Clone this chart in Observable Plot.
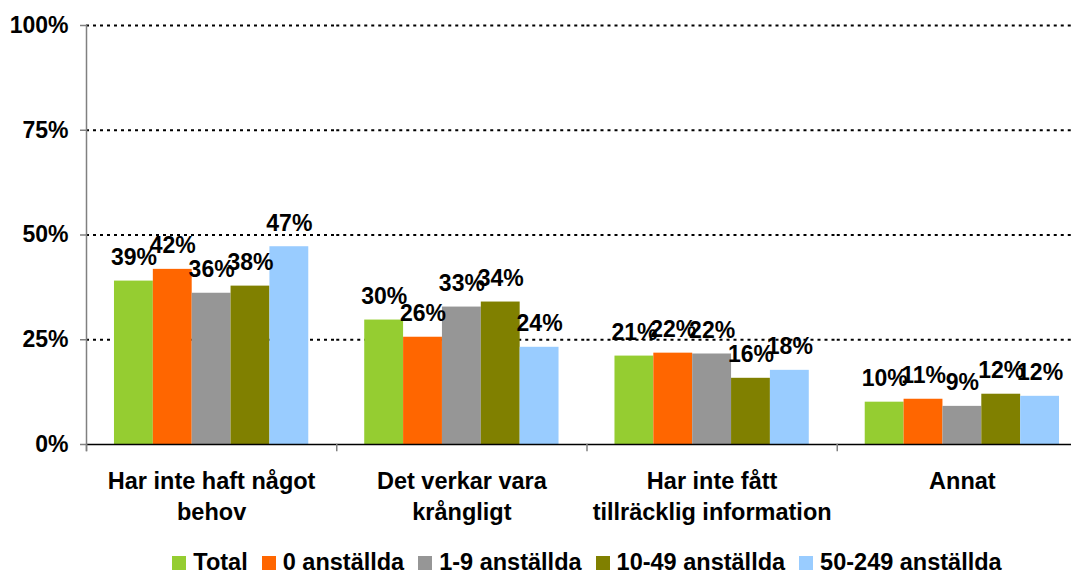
<!DOCTYPE html>
<html><head><meta charset="utf-8">
<script src="https://cdn.jsdelivr.net/npm/d3@7"></script>
<script src="https://cdn.jsdelivr.net/npm/@observablehq/plot@0.6"></script>
<style>
body{margin:0;background:#fff;font-family:"Liberation Sans",Arial,sans-serif;}
#chart svg{overflow:hidden;display:block;}
.lg-swatches{font-family:"Liberation Sans",Arial,sans-serif;font-weight:bold;font-size:23.5px;line-height:1;color:#000;margin:0 0 0 93px;width:1002px;min-height:30px;justify-content:center;}
.lg-swatch{margin-right:14px;}
.lg-swatch>svg{margin-right:7px;}
</style></head><body><div id="chart"></div>
<script>
const categories = ["Har inte haft något behov","Det verkar vara krångligt","Har inte fått tillräcklig information","Annat"];
const categoryLabels = ["Har inte haft något\nbehov","Det verkar vara\nkrångligt","Har inte fått\ntillräcklig information","Annat"];
const series = ["Total","0 anställda","1-9 anställda","10-49 anställda","50-249 anställda"];
const colors = ["#95CD31","#FF6600","#969696","#808000","#99CCFF"];
// bar heights (%)
const valTotal = [39.0, 29.7, 21.1, 10.1];
const val0     = [41.8, 25.6, 21.8, 10.8];
const val1_9   = [36.1, 32.8, 21.6, 9.1];
const val10_49 = [37.8, 34.0, 15.8, 12.0];
const val50_249= [47.2, 23.2, 17.7, 11.5];
// printed labels (%)
const lblTotal = [39, 30, 21, 10];
const lbl0     = [42, 26, 22, 11];
const lbl1_9   = [36, 33, 22, 9];
const lbl10_49 = [38, 34, 16, 12];
const lbl50_249= [47, 24, 18, 12];
const yTicks = [0, 25, 50, 75, 100];

const values = [valTotal, val0, val1_9, val10_49, val50_249];
const labels = [lblTotal, lbl0, lbl1_9, lbl10_49, lbl50_249];
const rows = [];
categories.forEach((c, i) => series.forEach((s, j) => rows.push({cat: c, series: s, value: values[j][i], label: labels[j][i]})));
const catRows = categories.map((c, i) => ({cat: c, label: categoryLabels[i]}));

const W = 1071, H = 548, plotTop = 25, plotBottom = 444;
const font = "'Liberation Sans', Arial, sans-serif";
const plot = Plot.plot({
  width: W, height: H,
  marginLeft: 86, marginRight: -16, marginTop: plotTop, marginBottom: H - plotBottom,
  style: {fontFamily: font, fontWeight: "bold", fontSize: "23px", color: "#000", background: "#fff", overflow: "hidden"},
  fx: {domain: categories, padding: 0, round: false, axis: null},
  x: {domain: series, paddingInner: 0, paddingOuter: 0.72, round: false, axis: null},
  y: {domain: [0, 100], axis: null},
  color: {domain: series, range: colors},
  marks: [
    Plot.ruleY(yTicks.filter(d => d > 0), {stroke: "#000", strokeWidth: 2, strokeDasharray: "3,4"}),
    Plot.barY(rows, {fx: "cat", x: "series", y: "value", fill: "series"}),
    Plot.text(rows, {fx: "cat", x: "series", y: "value", text: d => d.label + "%", lineAnchor: "bottom", dy: -16, fontSize: 23, fontWeight: "bold", fill: "#000"}),
    Plot.ruleY([0], {stroke: "#000", strokeWidth: 1.5}),
    Plot.frame({anchor: "left", stroke: "#808080", strokeWidth: 1.5, insetTop: plotBottom - plotTop, insetBottom: -6}),
    Plot.frame({anchor: "left", stroke: "#808080", strokeWidth: 1.5, facetAnchor: "left", insetBottom: -6}),
    Plot.axisY({ticks: yTicks, tickFormat: d => d + "%", tickSize: 6, tickPadding: 12, stroke: "#808080", strokeWidth: 1.5, fontSize: 23, fontWeight: "bold", fill: "#000", label: null}),
    Plot.text(catRows, {fx: "cat", text: "label", frameAnchor: "bottom", lineAnchor: "top", dy: 23, lineHeight: 1.3, fontSize: 23.5, fontWeight: "bold", fill: "#000"})
  ]
});
document.getElementById("chart").appendChild(plot);
const legend = plot.legend("color", {className: "lg", swatchSize: 14});
document.getElementById("chart").appendChild(legend);
</script></body></html>
